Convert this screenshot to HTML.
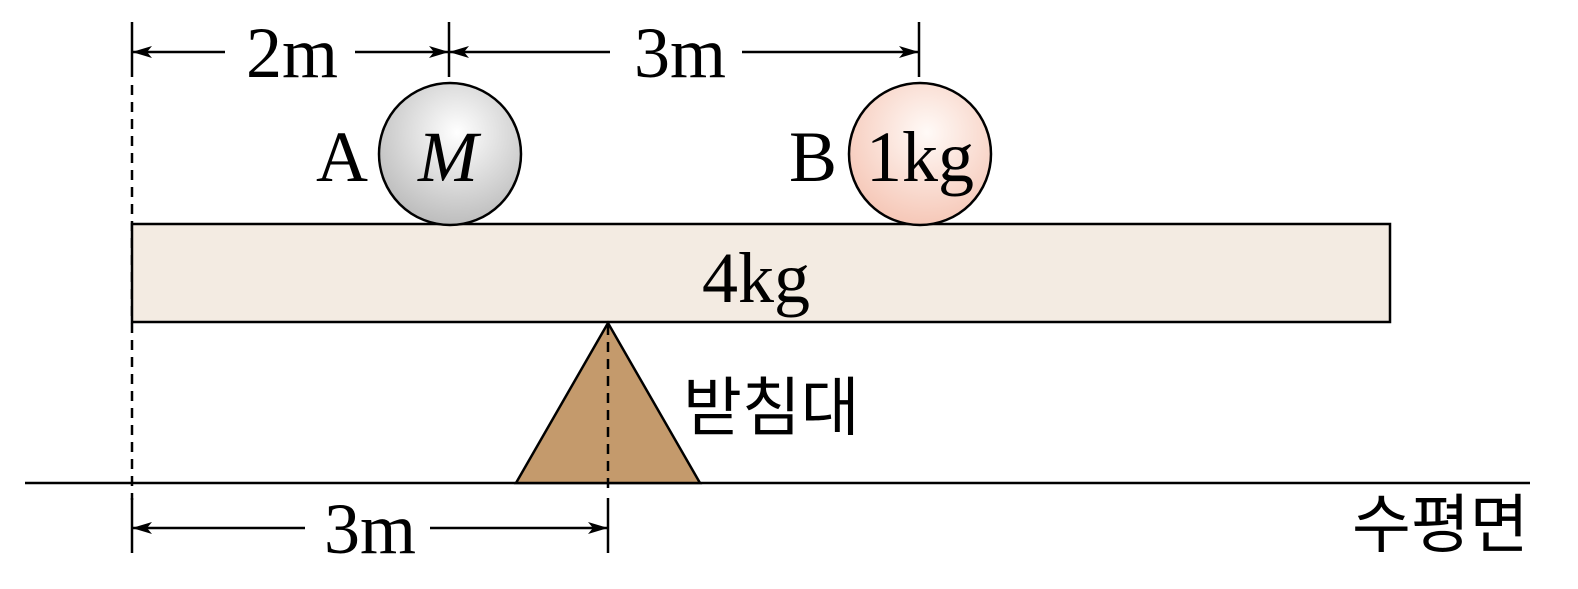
<!DOCTYPE html>
<html><head><meta charset="utf-8"><style>html,body{margin:0;padding:0;background:#fff}</style></head>
<body>
<svg width="1578" height="584" viewBox="0 0 1578 584" xmlns="http://www.w3.org/2000/svg">
<defs>
<radialGradient id="ga" cx="0.55" cy="0.35" r="0.7"><stop offset="0" stop-color="#ffffff"/><stop offset="1" stop-color="#b8b8b8"/></radialGradient>
<radialGradient id="gb" cx="0.55" cy="0.35" r="0.7"><stop offset="0" stop-color="#fffaf7"/><stop offset="1" stop-color="#f5c4b3"/></radialGradient>
<marker id="ar" viewBox="0 0 20 12" refX="20" refY="6" markerWidth="20" markerHeight="12" markerUnits="userSpaceOnUse" orient="auto-start-reverse"><path d="M0,0 L20,6 L0,12 L5,6 Z" fill="#000"/></marker>
</defs>
<g stroke="#000" stroke-width="2.5" fill="none">
<line x1="132" y1="22" x2="132" y2="77"/>
<line x1="449" y1="22" x2="449" y2="77"/>
<line x1="919" y1="22" x2="919" y2="77"/>
<line x1="132" y1="52" x2="225" y2="52" marker-start="url(#ar)"/>
<line x1="355" y1="52" x2="449" y2="52" marker-end="url(#ar)"/>
<line x1="449" y1="52" x2="610" y2="52" marker-start="url(#ar)"/>
<line x1="742" y1="52" x2="919" y2="52" marker-end="url(#ar)"/>
<line x1="132" y1="85" x2="132" y2="500" stroke-dasharray="10,7"/>
<line x1="132" y1="498" x2="132" y2="553"/>
<line x1="608" y1="498" x2="608" y2="553"/>
<line x1="132" y1="528" x2="305" y2="528" marker-start="url(#ar)"/>
<line x1="430" y1="528" x2="608" y2="528" marker-end="url(#ar)"/>
<line x1="25" y1="483" x2="1530" y2="483"/>
</g>
<rect x="132" y="224" width="1258" height="98" fill="#f3ebe2" stroke="#000" stroke-width="2.5"/>
<polygon points="608,323 516,483 700,483" fill="#c49a6c" stroke="#000" stroke-width="2.5"/>
<line x1="608" y1="325" x2="608" y2="495" stroke="#000" stroke-width="2.5" stroke-dasharray="10,7"/>
<circle cx="450" cy="154" r="71" fill="url(#ga)" stroke="#000" stroke-width="2.5"/>
<circle cx="920" cy="154" r="71" fill="url(#gb)" stroke="#000" stroke-width="2.5"/>
<g font-family="Liberation Serif, serif" font-size="72" fill="#000" text-anchor="middle">
<text x="292" y="77">2m</text>
<text x="680" y="77">3m</text>
<text x="370" y="553">3m</text>
<text x="342" y="181">A</text>
<text x="448" y="181" font-style="italic">M</text>
<text x="813" y="181">B</text>
<text x="920" y="181">1kg</text>
<text x="756" y="302">4kg</text>
</g>
<g font-family="Liberation Sans, 'Noto Sans CJK KR', sans-serif" font-size="64" fill="#000">
<text x="683" y="430">받침대</text>
<text x="1352" y="547">수평면</text>
</g>
</svg>
</body></html>
